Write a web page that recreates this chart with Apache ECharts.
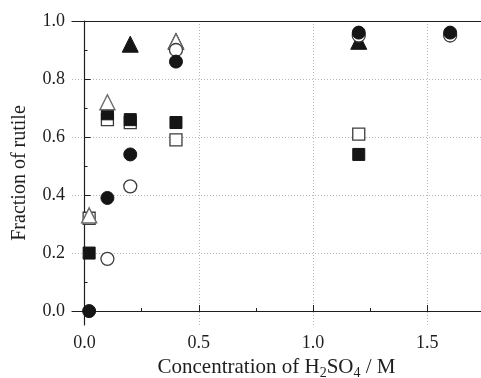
<!DOCTYPE html>
<html>
<head>
<meta charset="utf-8">
<script src="https://cdn.jsdelivr.net/npm/echarts@6/dist/echarts.min.js"></script>
<style>
  html, body { margin: 0; padding: 0; background: #fff; }
  #chart { width: 481px; height: 378px; }
</style>
</head>
<body>
<div id="chart"></div>
<script>
// Rutile fraction vs. H2SO4 concentration, six sample sets
const filledCircle   = [[0.02, 0.00], [0.10, 0.39], [0.20, 0.54], [0.40, 0.86], [1.20, 0.96], [1.60, 0.96]];
const openCircle     = [[0.10, 0.18], [0.20, 0.43], [0.40, 0.90], [1.20, 0.95], [1.60, 0.95]];
const filledSquare   = [[0.02, 0.20], [0.10, 0.68], [0.20, 0.66], [0.40, 0.65], [1.20, 0.54]];
const openSquare     = [[0.02, 0.32], [0.10, 0.66], [0.20, 0.65], [0.40, 0.59], [1.20, 0.61]];
const filledTriangle = [[0.20, 0.92], [0.40, 0.93], [1.20, 0.93]];
const openTriangle   = [[0.02, 0.33], [0.10, 0.72], [0.40, 0.93]];

const xMajorTicks = [0, 0.5, 1.0, 1.5];
const xMinorTicks = [0.25, 0.75, 1.25];
const yMajorTicks = [0, 0.2, 0.4, 0.6, 0.8, 1.0];
const yMinorTicks = [0.1, 0.3, 0.5, 0.7, 0.9];

const X_MIN = -0.055, X_MAX = 1.735;
const Y_MIN = -0.048, Y_MAX = 1.0;

const serif = '"Liberation Serif", "DejaVu Serif", serif';
const ink = '#1e1e1e';
const grid = { type: [1, 2], color: '#b8b8b8', width: 1 };

const fill = { color: '#151515', borderColor: '#151515', borderWidth: 1, opacity: 1 };
const hollow = { color: '#ffffff', borderColor: '#3c3c3c', borderWidth: 1.3, opacity: 1 };
const hollowTri = { color: '#ffffff', borderColor: '#6a6a6a', borderWidth: 1.4, opacity: 1 };

function markSeries(name, data, symbol, size, style, z) {
  return {
    name, type: 'scatter', data, symbol, symbolSize: size,
    xAxisIndex: 0, yAxisIndex: 0, itemStyle: style, z,
    emphasis: { disabled: true }
  };
}

const chart = echarts.init(document.getElementById('chart'), null, { renderer: 'canvas' });
chart.setOption({
  animation: false,
  backgroundColor: '#ffffff',
  grid: { left: 72, top: 21, right: 0, bottom: 53, containLabel: false, outerBoundsMode: 'none' },
  xAxis: [
    {
      type: 'value', min: X_MIN, max: X_MAX, position: 'bottom',
      name: 'Concentration of H{s|2}SO{s|4} / M',
      nameLocation: 'middle', nameGap: 30,
      nameTextStyle: {
        fontFamily: serif, fontSize: 21, color: ink,
        rich: { s: { fontFamily: serif, fontSize: 14, color: ink, verticalAlign: 'bottom', padding: [11, 0, 0, 0] } }
      },
      axisLine: { show: true, lineStyle: { color: ink, width: 1.2 } },
      axisTick: { show: true, inside: true, length: 6, customValues: xMajorTicks, lineStyle: { color: ink } },
      axisLabel: {
        customValues: xMajorTicks, margin: 9,
        fontFamily: serif, fontSize: 18, color: ink,
        formatter: v => v.toFixed(1)
      },
      splitLine: { show: true, lineStyle: grid }
    },
    {
      type: 'value', min: X_MIN, max: X_MAX, position: 'bottom',
      axisLine: { show: false },
      axisTick: { show: true, inside: true, length: 3, customValues: xMinorTicks, lineStyle: { color: ink } },
      axisLabel: { show: false },
      splitLine: { show: false }
    },
    {
      type: 'value', min: X_MIN, max: X_MAX, position: 'top',
      axisLine: { show: true, lineStyle: { color: ink, width: 1.2 } },
      axisTick: { show: false }, axisLabel: { show: false }, splitLine: { show: false }
    }
  ],
  yAxis: [
    {
      type: 'value', min: Y_MIN, max: Y_MAX, position: 'left',
      name: 'Fraction of rutile',
      nameLocation: 'middle', nameGap: 42, nameRotate: 90,
      nameTextStyle: { fontFamily: serif, fontSize: 20, color: ink },
      axisLine: { show: true, lineStyle: { color: ink, width: 1.2 } },
      axisTick: { show: true, inside: true, length: 6, customValues: yMajorTicks, lineStyle: { color: ink } },
      axisLabel: {
        customValues: yMajorTicks, margin: 7,
        fontFamily: serif, fontSize: 18, color: ink,
        formatter: v => v.toFixed(1)
      },
      splitLine: { show: true, lineStyle: grid }
    },
    {
      type: 'value', min: Y_MIN, max: Y_MAX, position: 'left',
      axisLine: { show: false },
      axisTick: { show: true, inside: true, length: 3, customValues: yMinorTicks, lineStyle: { color: ink } },
      axisLabel: { show: false },
      splitLine: { show: false }
    }
  ],
  series: [
    markSeries('open square', openSquare, 'rect', 12, hollow, 2),
    markSeries('filled square', filledSquare, 'rect', 12, fill, 3),
    markSeries('filled triangle', filledTriangle, 'triangle', 16, fill, 4),
    markSeries('open triangle', openTriangle, 'triangle', 15, hollowTri, 5),
    markSeries('open circle', openCircle, 'circle', 13, hollow, 6),
    markSeries('filled circle', filledCircle, 'circle', 13, fill, 7)
  ]
});
</script>
</body>
</html>
